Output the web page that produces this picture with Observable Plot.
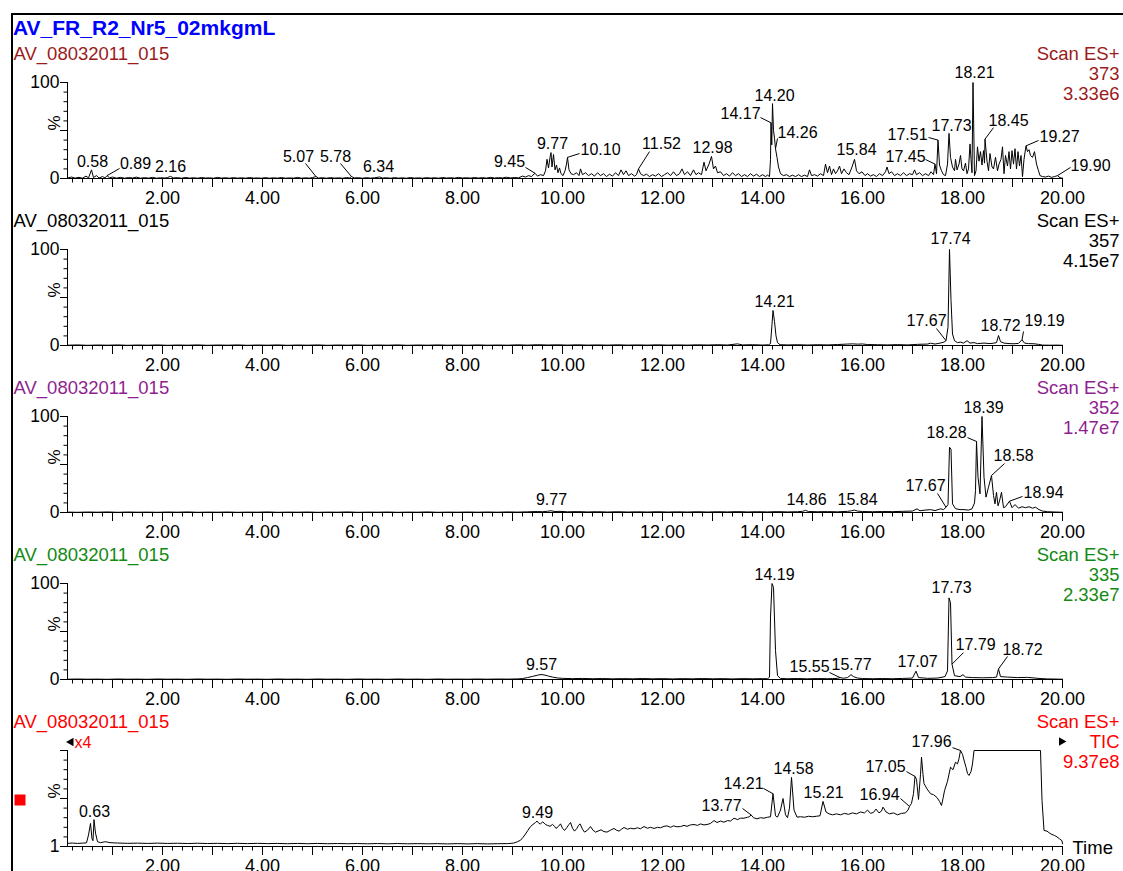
<!DOCTYPE html>
<html><head><meta charset="utf-8">
<script src="https://cdn.jsdelivr.net/npm/d3@7"></script>
<script src="https://cdn.jsdelivr.net/npm/@observablehq/plot@0.6"></script>
<style>
body{margin:0;background:#fff;overflow:hidden}
#page{position:relative;width:1123px;height:871px;overflow:hidden;font-family:"Liberation Sans",Arial,Helvetica,sans-serif;background:#fff}
#frame{position:absolute;left:11px;top:13px;width:1120px;height:870px;border-top:2px solid #000;border-left:2px solid #000}
#title{position:absolute;left:13px;top:17px;font-weight:bold;font-size:21px;line-height:21px;color:#0000ff;white-space:nowrap}
</style></head>
<body><div id="page"><div id="frame"></div><div id="title"></div></div>
<script>
// ---------------- data ----------------
const chartTitle = "AV_FR_R2_Nr5_02mkgmL";
const sampleNames = ["AV_08032011_015","AV_08032011_015","AV_08032011_015","AV_08032011_015","AV_08032011_015"];
const scanMode = "Scan ES+";
const channels = ["373","357","352","335","TIC"];
const intensities = ["3.33e6","4.15e7","1.47e7","2.33e7","9.37e8"];
const xLabelTicks = [2,4,6,8,10,12,14,16,18,20];
const xMajorTicks = [1,2,3,4,5,6,7,8,9,10,11,12,13,14,15,16,17,18,19,20];
const yMinorTicks = [0,10,20,30,40,50,60,70,80,90,100];
const yMajorTicks = [0,50,100];

// [time (min), relative intensity %]
const trace373 = [[0.10,0.5],[0.18,1.5],[0.25,0.4],[0.33,1.2],[0.40,0.3],[0.47,2.5],[0.52,0.6],[0.58,9],[0.62,1],[0.68,3],[0.73,0.5],[0.80,2],[0.85,0.6],[0.89,3],[0.94,0.8],[1.00,1.5],[1.08,0.4],[1.16,1.2],[1.24,0.3],[1.32,1],[1.40,0.5],[1.48,1.4],[1.56,0.3],[1.64,0.9],[1.72,0.4],[1.80,1.2],[1.88,0.3],[1.96,0.8],[2.05,0.5],[2.10,1],[2.16,2.2],[2.22,0.6],[2.30,0.9],[2.38,0.3],[2.46,1.1],[2.54,0.4],[2.62,0.8],[2.70,0.3],[2.78,1],[2.86,0.5],[2.94,0.7],[3.02,0.3],[3.10,1.1],[3.18,0.4],[3.26,0.8],[3.34,0.3],[3.42,0.9],[3.50,0.4],[3.58,0.7],[3.66,0.3],[3.74,1],[3.82,0.4],[3.90,0.6],[3.98,0.3],[4.06,0.9],[4.14,0.3],[4.22,0.7],[4.30,0.4],[4.38,1],[4.46,0.3],[4.54,0.6],[4.62,0.4],[4.70,1.1],[4.78,0.3],[4.86,0.7],[4.94,0.4],[5.00,1],[5.07,2],[5.12,0.5],[5.20,0.8],[5.28,0.3],[5.36,0.9],[5.44,0.4],[5.52,0.7],[5.60,0.3],[5.68,1],[5.74,0.6],[5.78,2],[5.84,0.6],[5.92,0.8],[6.00,0.3],[6.08,0.9],[6.16,0.4],[6.24,0.7],[6.34,1.6],[6.40,0.5],[6.48,0.8],[6.56,0.3],[6.64,0.9],[6.72,0.4],[6.80,0.7],[6.88,0.3],[6.96,1],[7.04,0.4],[7.12,0.7],[7.20,0.3],[7.28,0.9],[7.36,0.4],[7.44,0.8],[7.52,0.3],[7.60,1],[7.68,0.5],[7.76,0.8],[7.84,0.4],[7.92,1.1],[8.00,0.5],[8.08,0.8],[8.16,0.4],[8.24,1],[8.32,0.5],[8.40,0.9],[8.48,0.4],[8.56,1.2],[8.64,0.5],[8.72,0.9],[8.80,0.6],[8.88,1.3],[8.96,0.6],[9.04,1],[9.12,0.7],[9.20,2.5],[9.26,1.5],[9.32,3],[9.38,2],[9.45,5.5],[9.50,2.5],[9.56,4],[9.62,3],[9.66,8],[9.69,20],[9.72,11],[9.75,22],[9.77,27],[9.79,12],[9.82,25],[9.85,9],[9.88,14],[9.91,6],[9.94,11],[9.97,5],[10.01,3],[10.05,8],[10.08,15],[10.10,22],[10.13,9],[10.17,5],[10.22,4],[10.28,6],[10.33,3],[10.36,10],[10.40,4],[10.46,6],[10.52,3],[10.58,5],[10.64,2.5],[10.70,6],[10.76,3],[10.82,5],[10.88,2],[10.94,4.5],[11.00,2.5],[11.06,6],[11.12,3],[11.17,9],[11.22,4],[11.27,8],[11.32,3],[11.38,5],[11.44,2.5],[11.48,4],[11.52,10],[11.56,5],[11.62,3],[11.68,4.5],[11.74,2],[11.80,4],[11.86,2.5],[11.92,5],[11.98,2],[12.04,4],[12.10,6],[12.16,3],[12.22,7],[12.28,3],[12.34,5],[12.39,10],[12.44,4],[12.50,7],[12.56,3],[12.62,9],[12.67,4],[12.72,6],[12.78,4],[12.83,17],[12.87,8],[12.93,15],[12.98,23],[13.02,10],[13.06,13],[13.10,6],[13.16,7],[13.22,3],[13.28,5],[13.34,2.5],[13.40,6],[13.46,3],[13.52,5],[13.58,2],[13.64,4],[13.70,2],[13.76,5],[13.82,2.5],[13.88,4.5],[13.94,2],[14.00,4],[14.06,2],[14.10,3.5],[14.14,2],[14.16,20],[14.17,58],[14.185,35],[14.20,78],[14.22,50],[14.24,42],[14.26,31],[14.29,22],[14.32,12],[14.36,5],[14.42,3],[14.48,4],[14.54,2],[14.60,3.5],[14.66,2],[14.72,4],[14.78,2],[14.84,3.5],[14.90,2],[14.94,9],[14.98,3],[15.04,4],[15.10,2.5],[15.16,5],[15.22,3],[15.26,15],[15.30,6],[15.34,13],[15.38,4],[15.42,10],[15.46,5],[15.50,8],[15.54,13],[15.58,5],[15.63,10],[15.68,6],[15.73,4],[15.79,12],[15.84,20],[15.88,8],[15.93,5],[15.99,7],[16.05,3],[16.10,5],[16.16,2.5],[16.22,4],[16.28,2],[16.34,5],[16.40,3],[16.46,7],[16.49,12],[16.53,5],[16.58,7],[16.64,3],[16.70,5],[16.76,3],[16.82,6],[16.88,3],[16.94,5],[17.00,4],[17.04,9],[17.08,4],[17.14,6],[17.20,3],[17.26,5],[17.32,3],[17.37,7],[17.42,4],[17.45,15],[17.48,5],[17.51,40],[17.54,14],[17.58,8],[17.62,4],[17.66,3],[17.70,15],[17.73,47],[17.76,22],[17.80,12],[17.84,8],[17.86,20],[17.89,9],[17.93,15],[17.96,24],[17.99,10],[18.02,8],[18.06,16],[18.09,5],[18.12,10],[18.15,36],[18.17,20],[18.19,6],[18.21,100],[18.24,3],[18.27,8],[18.30,33],[18.33,18],[18.36,28],[18.39,14],[18.42,29],[18.44,16],[18.45,41],[18.49,18],[18.52,8],[18.55,26],[18.59,12],[18.62,10],[18.66,22],[18.70,8],[18.73,15],[18.77,20],[18.80,33],[18.83,5],[18.86,24],[18.90,13],[18.93,28],[18.96,10],[18.99,29],[19.02,15],[19.05,31],[19.08,10],[19.11,28],[19.14,13],[19.17,24],[19.20,2],[19.23,20],[19.27,34],[19.30,28],[19.33,30],[19.36,24],[19.40,22],[19.44,28],[19.48,15],[19.52,8],[19.55,3],[19.60,2],[19.66,1.5],[19.72,2.5],[19.78,1.2],[19.84,2],[19.90,3],[19.95,0.8],[20.00,0.3]];

const trace357 = [[0.10,0.3],[0.3,0.6],[0.5,0.2],[0.7,0.5],[0.9,0.3],[1.1,0.6],[1.3,0.2],[1.5,0.5],[1.7,0.3],[1.9,0.6],[2.1,0.2],[2.3,0.5],[2.5,0.3],[2.7,0.6],[2.9,0.2],[3.1,0.5],[3.3,0.3],[3.5,0.6],[3.7,0.2],[3.9,0.5],[4.1,0.3],[4.3,0.6],[4.5,0.2],[4.7,0.5],[4.9,0.3],[5.1,0.6],[5.3,0.2],[5.5,0.5],[5.7,0.3],[5.9,0.6],[6.1,0.2],[6.3,0.5],[6.5,0.3],[6.7,0.6],[6.9,0.2],[7.1,0.5],[7.3,0.3],[7.5,0.6],[7.7,0.3],[7.9,0.5],[8.1,0.3],[8.3,0.6],[8.5,0.3],[8.7,0.5],[8.9,0.3],[9.1,0.7],[9.3,0.4],[9.5,0.8],[9.7,0.5],[9.9,0.7],[10.1,0.4],[10.3,0.7],[10.5,0.4],[10.7,0.6],[10.9,0.4],[11.1,0.7],[11.3,0.4],[11.5,0.6],[11.7,0.4],[11.9,0.7],[12.1,0.4],[12.3,0.6],[12.5,0.4],[12.7,0.7],[12.9,0.5],[13.1,0.8],[13.3,0.5],[13.5,1.7],[13.6,0.6],[13.8,0.8],[14.0,0.5],[14.12,0.7],[14.16,2],[14.19,22],[14.21,36.5],[14.24,25],[14.27,10],[14.30,3],[14.35,0.8],[14.5,0.6],[14.7,0.8],[14.9,0.5],[15.1,0.8],[15.3,0.6],[15.5,1],[15.7,1.5],[15.8,1.7],[15.9,1.4],[16.0,1.6],[16.1,1],[16.3,0.8],[16.5,0.6],[16.7,0.9],[16.9,0.6],[17.1,1.2],[17.3,1.5],[17.36,2.4],[17.45,1.5],[17.55,2.5],[17.63,3.5],[17.67,5],[17.71,19],[17.74,100],[17.77,47],[17.80,12],[17.84,5],[17.90,3],[17.96,3.5],[18.02,2.5],[18.09,5],[18.15,2.5],[18.23,3],[18.30,2],[18.43,2.5],[18.55,2],[18.63,2.5],[18.68,3],[18.72,10.4],[18.76,4],[18.83,2.5],[18.93,2],[19.03,1.8],[19.12,2.2],[19.19,6],[19.24,2.5],[19.32,2],[19.43,1.8],[19.52,1.2],[19.60,0.4],[19.75,0.3],[19.90,0.4],[20.00,0.2]];

const trace352 = [[0.1,0.4],[0.3,0.2],[0.5,0.5],[0.7,0.3],[0.9,0.6],[1.1,0.2],[1.3,0.5],[1.5,0.3],[1.7,0.4],[1.9,0.2],[2.1,0.5],[2.3,0.3],[2.5,0.6],[2.7,0.2],[2.9,0.4],[3.1,0.3],[3.3,0.5],[3.5,0.2],[3.7,0.4],[3.9,0.3],[4.1,0.6],[4.3,0.2],[4.5,0.4],[4.7,0.3],[4.9,0.5],[5.1,0.2],[5.3,0.4],[5.5,0.3],[5.7,0.6],[5.9,0.2],[6.1,0.4],[6.3,0.3],[6.5,0.5],[6.7,0.2],[6.9,0.4],[7.1,0.3],[7.3,0.6],[7.5,0.2],[7.7,0.4],[7.9,0.3],[8.1,0.5],[8.3,0.3],[8.5,0.5],[8.7,0.3],[8.9,0.6],[9.1,0.4],[9.3,0.7],[9.5,1],[9.6,0.8],[9.7,1.3],[9.77,1.8],[9.85,1],[9.95,1.2],[10.1,0.7],[10.3,0.9],[10.5,0.6],[10.7,0.8],[10.9,0.5],[11.1,0.8],[11.3,0.5],[11.5,0.7],[11.7,0.5],[11.9,0.8],[12.1,0.5],[12.3,0.7],[12.5,0.5],[12.7,0.8],[12.9,0.5],[13.1,0.8],[13.3,0.6],[13.5,0.9],[13.7,0.6],[13.9,0.8],[14.1,0.6],[14.3,0.9],[14.5,0.6],[14.7,0.8],[14.80,1.2],[14.86,2.2],[14.92,1],[15.1,0.8],[15.3,0.9],[15.5,0.7],[15.7,1.2],[15.78,1.8],[15.84,2.5],[15.90,1.5],[16.0,1],[16.2,0.8],[16.4,1],[16.6,0.9],[16.8,1.2],[17.0,1.5],[17.09,3.8],[17.15,1.8],[17.25,2.5],[17.36,3],[17.45,2],[17.56,3.8],[17.62,3],[17.67,5.5],[17.71,8.3],[17.74,68],[17.77,66],[17.80,9],[17.86,4],[17.95,3],[18.03,3],[18.12,2.5],[18.19,3.8],[18.24,10],[18.26,23],[18.28,74],[18.31,36.8],[18.35,19.4],[18.39,100],[18.43,36.8],[18.47,16],[18.52,26.4],[18.58,38.5],[18.62,17.7],[18.65,9],[18.68,21],[18.71,7],[18.74,12],[18.78,21],[18.82,5],[18.86,6],[18.94,11.8],[18.99,5],[19.05,8.3],[19.12,4.5],[19.19,6],[19.26,5],[19.33,6],[19.40,4.5],[19.46,5.5],[19.53,3],[19.60,1.5],[19.70,0.8],[19.85,0.5],[20.00,0.3]];

const trace335 = [[0.1,0.3],[0.3,0.5],[0.5,0.3],[0.7,0.4],[0.9,0.2],[1.1,0.5],[1.3,0.3],[1.5,0.4],[1.7,0.2],[1.9,0.5],[2.1,0.3],[2.3,0.4],[2.5,0.2],[2.7,0.5],[2.9,0.3],[3.1,0.4],[3.3,0.2],[3.5,0.5],[3.7,0.3],[3.9,0.4],[4.1,0.2],[4.3,0.5],[4.5,0.3],[4.7,0.4],[4.9,0.2],[5.1,0.5],[5.3,0.3],[5.5,0.4],[5.7,0.2],[5.9,0.5],[6.1,0.3],[6.3,0.4],[6.5,0.2],[6.7,0.5],[6.9,0.3],[7.1,0.4],[7.3,0.2],[7.5,0.5],[7.7,0.3],[7.9,0.4],[8.1,0.3],[8.3,0.5],[8.5,0.3],[8.7,0.5],[8.9,0.4],[9.1,0.6],[9.2,1],[9.3,2],[9.4,3.2],[9.5,4.5],[9.57,5.2],[9.65,4.6],[9.72,3.5],[9.8,2.5],[9.9,1.6],[10.0,1.2],[10.2,0.9],[10.4,1.1],[10.6,0.8],[10.8,1],[11.0,0.7],[11.2,0.9],[11.4,0.7],[11.6,1],[11.8,0.7],[12.0,0.9],[12.2,0.6],[12.4,0.9],[12.6,0.7],[12.8,1],[13.0,0.7],[13.2,0.9],[13.4,0.6],[13.6,0.9],[13.8,0.7],[14.0,0.9],[14.10,0.8],[14.14,2.5],[14.16,65],[14.19,100],[14.22,96],[14.26,30],[14.30,4],[14.36,1],[14.5,0.8],[14.7,1],[14.9,0.7],[15.1,1],[15.3,0.8],[15.4,1],[15.5,1.2],[15.55,2],[15.62,1.3],[15.7,2],[15.77,5],[15.82,3],[15.9,1.5],[16.0,1],[16.2,0.8],[16.4,1],[16.6,0.8],[16.8,1.1],[17.0,1.5],[17.07,8.7],[17.12,2],[17.3,1.2],[17.5,1.5],[17.65,3],[17.70,9],[17.73,85],[17.76,80],[17.79,16],[17.84,4],[17.95,3],[18.01,5],[18.06,2.5],[18.2,2],[18.4,1.8],[18.6,2],[18.68,2.5],[18.72,11],[18.76,3],[18.9,2.5],[19.1,2],[19.3,2.2],[19.45,1.5],[19.55,1],[19.7,0.6],[20.0,0.3]];

const traceTIC = [[0.10,3.3],[0.2,3.6],[0.3,3.2],[0.4,3.5],[0.48,3.8],[0.52,12],[0.56,24],[0.59,8],[0.61,6],[0.63,28],[0.66,14],[0.70,5],[0.76,4],[0.86,5],[0.95,4],[1.1,3.6],[1.3,3.3],[1.5,3.5],[1.7,3.2],[1.9,3.5],[2.1,3.2],[2.3,3.4],[2.5,3.1],[2.7,3.4],[2.9,3.1],[3.1,3.3],[3.3,3.0],[3.5,3.3],[3.7,3.0],[3.9,3.3],[4.1,3.0],[4.3,3.2],[4.5,2.9],[4.7,3.2],[4.9,2.9],[5.1,3.2],[5.3,2.9],[5.5,3.1],[5.7,2.9],[5.9,3.1],[6.1,2.8],[6.3,3.1],[6.5,2.8],[6.7,3.1],[6.9,2.8],[7.1,3.0],[7.3,2.8],[7.5,3.0],[7.7,2.7],[7.9,3.0],[8.1,2.7],[8.3,3.0],[8.5,2.7],[8.7,2.9],[8.9,3.0],[9.02,3.5],[9.10,5],[9.16,6.5],[9.21,9.5],[9.26,13],[9.31,17],[9.36,20.8],[9.41,23],[9.46,25],[9.49,26.5],[9.53,24],[9.56,23.6],[9.60,25.5],[9.63,24.6],[9.67,22.5],[9.70,22],[9.75,21],[9.80,23],[9.84,21],[9.87,18.8],[9.92,21],[9.96,23.6],[10.00,19],[10.04,16.7],[10.09,20],[10.13,23],[10.16,25],[10.20,19],[10.24,16],[10.29,19],[10.32,22],[10.35,23.6],[10.40,18],[10.44,15],[10.50,17],[10.56,20.8],[10.61,17],[10.66,15],[10.71,16],[10.77,17.4],[10.83,15.5],[10.89,15],[10.96,17],[11.03,18.8],[11.08,17],[11.13,16],[11.18,18],[11.23,19.8],[11.30,18],[11.36,19],[11.43,18.4],[11.50,19.5],[11.56,18.5],[11.63,20.8],[11.70,19],[11.76,20],[11.83,18.8],[11.90,20],[11.96,19.5],[12.03,21],[12.09,21.5],[12.16,20],[12.22,21.5],[12.29,20.5],[12.36,20.8],[12.43,22],[12.49,21],[12.56,22.5],[12.63,22.9],[12.70,22],[12.76,23.5],[12.83,22.5],[12.89,22.9],[12.96,24],[13.03,27],[13.09,25],[13.16,26.5],[13.23,25.3],[13.30,27],[13.36,26.5],[13.43,29.5],[13.50,28],[13.56,29.5],[13.63,29.5],[13.70,30.5],[13.74,31],[13.77,33],[13.82,30],[13.89,28.8],[13.96,30],[14.03,29.5],[14.10,30.5],[14.16,31],[14.21,55],[14.26,32],[14.30,30.6],[14.36,38],[14.41,50],[14.46,33],[14.50,30],[14.54,40],[14.58,72],[14.63,38],[14.69,30.6],[14.76,31],[14.84,30.5],[14.92,31.5],[15.00,31],[15.08,31.5],[15.15,32],[15.21,47],[15.27,36],[15.33,34],[15.40,33],[15.48,34],[15.56,33],[15.64,34.5],[15.72,33.5],[15.80,35],[15.88,34],[15.96,36],[16.04,35],[16.10,38],[16.16,34.5],[16.22,35.5],[16.27,39],[16.33,35],[16.38,37],[16.41,41],[16.47,36],[16.54,34],[16.62,35],[16.70,33],[16.78,34.5],[16.86,35],[16.91,38],[16.94,41.7],[16.98,45],[17.02,55],[17.05,73],[17.08,70],[17.12,49],[17.16,75],[17.18,93],[17.21,75],[17.23,65.6],[17.29,60],[17.36,55],[17.42,54],[17.49,51],[17.54,47],[17.58,42.7],[17.61,50],[17.64,58],[17.70,68],[17.76,82.6],[17.81,80],[17.86,87.8],[17.90,86],[17.93,91.6],[17.96,100],[18.00,96],[18.04,88],[18.07,82.6],[18.10,76],[18.13,74],[18.17,78],[18.20,86],[18.23,100],[19.56,100],[19.59,48],[19.63,16.7],[19.69,16],[19.74,14],[19.79,12.5],[19.84,11.5],[19.89,10],[19.94,8],[19.99,6],[20.00,2.8]];

// peak labels: [text, apex time, apex %, label time, label baseline %, leader end time, leader end %]
const labels373 = [["0.58",0.58,9,0.60,11.5,null,null],["0.89",0.89,3,1.46,10.4,1.14,10.4],["2.16",2.16,2.2,2.16,6.3,null,null],["5.07",5.07,2,4.72,17.7,4.86,15.6],["5.78",5.78,2,5.46,17.7,5.56,15.6],["6.34",6.34,1.6,6.32,6.3,null,null],["9.45",9.45,5.5,8.94,11.5,9.26,11.5],["9.77",9.77,27,9.80,31,null,null],["10.10",10.10,22,10.76,25,10.34,26],["11.52",11.52,10,11.98,31,11.74,28],["12.98",12.98,23,13.00,27,null,null],["14.17",14.17,58,13.56,62.5,13.96,63.5],["14.20",14.20,78,14.24,81,null,null],["14.26",14.26,31,14.70,42.7,14.30,41.7],["15.84",15.84,20,15.88,24,null,null],["17.45",17.45,15,16.86,16.7,17.26,19.8],["17.51",17.51,40,16.90,40.6,17.32,42.7],["17.73",17.73,47,17.78,50,null,null],["18.21",18.21,100,18.24,105,null,null],["18.45",18.45,41,18.92,55,18.62,53],["19.27",19.27,34,19.94,38.5,19.52,39.6],["19.90",19.90,3,20.56,8.3,20.16,11.5]];
const labels357 = [["14.21",14.21,36.5,14.24,39.6,null,null],["17.67",17.67,5,17.28,19.8,17.48,17.7],["17.74",17.74,100,17.76,106,null,null],["18.72",18.72,10.4,18.76,14.6,null,null],["19.19",19.19,6,19.64,19.8,19.22,14.6]];
const labels352 = [["9.77",9.77,1.8,9.78,7.3,null,null],["14.86",14.86,2.2,14.88,7.3,null,null],["15.84",15.84,2.5,15.90,7.3,null,null],["17.67",17.67,5.5,17.26,22.9,17.50,19.8],["18.28",18.28,74,17.68,78,18.10,78],["18.39",18.39,100,18.42,104,null,null],["18.58",18.58,38.5,19.02,54,18.84,51],["18.94",18.94,11.8,19.62,14.6,19.20,16.7]];
const labels335 = [["9.57",9.57,5.2,9.58,9.4,null,null],["14.19",14.19,100,14.24,104,null,null],["15.55",15.55,2,14.94,7.3,15.34,7.3],["15.77",15.77,5,15.78,9.4,null,null],["17.07",17.07,8.7,17.10,13.5,null,null],["17.73",17.73,85,17.78,89.6,null,null],["17.79",17.79,16,18.26,31.25,18.02,28],["18.72",18.72,11,19.20,26,18.90,24]];
const labelsTIC = [["0.63",0.63,28,0.64,31.25,null,null],["9.49",9.49,26.5,9.50,30.2,null,null],["13.77",13.77,33,13.18,37.5,13.60,39.6],["14.21",14.21,55,13.62,60.4,14.02,60.4],["14.58",14.58,72,14.62,76,null,null],["15.21",15.21,47,15.22,51,null,null],["16.94",16.94,41.7,16.34,48,16.76,50],["17.05",17.05,73,16.46,77.4,16.88,78],["17.96",17.96,100,17.38,103.4,17.80,103]];

// ---------------- styles ----------------
const panelColors = ["#9b1b1b","#000000","#8f1f8f","#138a13","#ff0000"];
const FONT = "'Liberation Sans', Arial, Helvetica, sans-serif";

const xMinorTicks = d3.range(2, 201, 2).map(k => k / 10);

function panel(i, trace, labels, isTic) {
  const color = panelColors[i];
  const lab = labels.map(([text, rt, pv, tx, ty, ex, ey]) => ({text, rt, pv, tx, ty, ex, ey}));
  const leaders = lab.filter(d => d.ex != null);
  const marks = [
    Plot.axisX({ticks: xMinorTicks, tickSize: 4.5, fill: "none", label: null}),
    Plot.axisX({ticks: xMajorTicks, tickSize: 9, fill: "none", label: null}),
    Plot.axisX({ticks: xLabelTicks, tickSize: 9, tickPadding: 4, tickFormat: d => d.toFixed(2), fontSize: 18, label: null}),
    Plot.axisY({ticks: yMinorTicks, tickSize: 3.5, fill: "none", label: null}),
    Plot.axisY({ticks: yMajorTicks, tickSize: 7, fill: "none", label: null}),
    Plot.axisY({ticks: isTic ? [0] : [0, 100], tickSize: 0, tickPadding: 8, tickFormat: isTic ? () => "1" : d => String(d), fontSize: 17.5, label: null}),
    Plot.ruleY([0], {stroke: "black"}),
    Plot.ruleX([0.1], {y1: 0, y2: 100, stroke: "black"}),
    Plot.line(trace, {x: d => d[0], y: d => d[1], stroke: "black", strokeWidth: 1}),
    Plot.link(leaders, {x1: "rt", y1: "pv", x2: "ex", y2: "ey", stroke: "black", strokeWidth: 1}),
    Plot.text(lab, {x: "tx", y: "ty", text: "text", lineAnchor: "bottom", fontSize: 16, fill: "black"}),
    Plot.text(["%"], {text: d => d, frameAnchor: "left", dx: -13, rotate: -90, fontSize: 17, fill: "black"}),
    Plot.text([sampleNames[i]], {text: d => d, frameAnchor: "top-left", dx: -54, dy: -23, textAnchor: "start", lineAnchor: "bottom", fill: color, fontSize: 18.5}),
    Plot.text([`${scanMode}\n${channels[i]}\n${intensities[i]}`], {text: d => d, frameAnchor: "top-right", dx: 57, dy: 17, textAnchor: "end", lineAnchor: "bottom", lineHeight: 20 / 18.5, fill: color, fontSize: 18.5})
  ];
  if (isTic) {
    marks.push(
      Plot.dot([0], {frameAnchor: "top-left", dx: 3.5, dy: -8.5, symbol: "triangle", r: 3.2, rotate: -90, fill: "black", stroke: "none"}),
      Plot.text(["x4"], {text: d => d, frameAnchor: "top-left", dx: 7, dy: -3, textAnchor: "start", lineAnchor: "bottom", fill: color, fontSize: 16}),
      Plot.dot([0], {frameAnchor: "top-right", dx: -1, dy: -9, symbol: "triangle", r: 3.2, rotate: 90, fill: "black", stroke: "none"}),
      Plot.text(["Time"], {text: d => d, frameAnchor: "bottom-right", dx: 10, dy: 7, textAnchor: "start", lineAnchor: "bottom", fill: "black", fontSize: 18.5}),
      Plot.dot([0], {frameAnchor: "left", dx: -47.5, dy: 1.5, symbol: "square", r: 6.2, fill: "#ff0000", stroke: "none"})
    );
  }
  const svg = Plot.plot({
    width: 1123, height: 167,
    marginLeft: 67, marginRight: 61, marginTop: 42, marginBottom: 29,
    x: {domain: [0.1, 20], label: null},
    y: {domain: [0, 100], label: null},
    style: {fontFamily: FONT, fontSize: "16px", overflow: "visible", background: "transparent", color: "black"},
    marks
  });
  svg.style.position = "absolute";
  svg.style.left = "0px";
  svg.style.top = (40 + 167 * i) + "px";
  return svg;
}

const page = document.getElementById("page");
document.getElementById("title").textContent = chartTitle;
const traces = [trace373, trace357, trace352, trace335, traceTIC];
const labelSets = [labels373, labels357, labels352, labels335, labelsTIC];
traces.forEach((t, i) => page.appendChild(panel(i, t, labelSets[i], i === 4)));
</script>
</body></html>
